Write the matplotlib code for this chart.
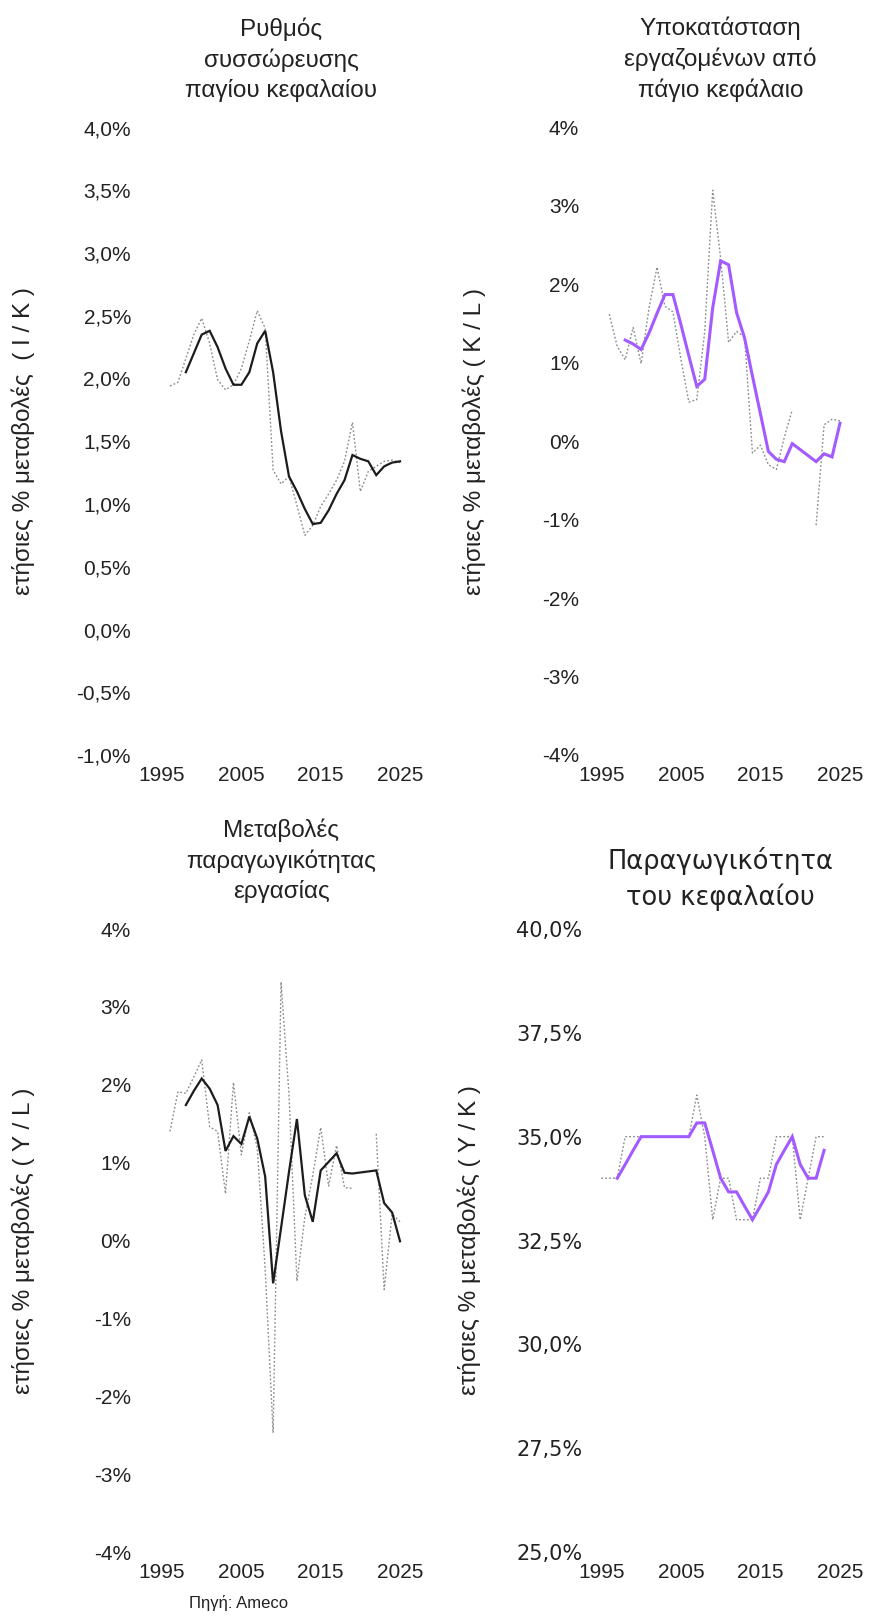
"""
Четыре панели: накопление капитала, замещение труда капиталом,
производительность труда и производительность капитала (данные Ameco).
Пунктир - годовые значения, сплошная линия - сглаженный ряд.
"""

import numpy as np
import matplotlib

matplotlib.use("Agg")
import matplotlib.pyplot as plt
from matplotlib.ticker import FuncFormatter, MultipleLocator

nan = float("nan")

# Данные

years = list(range(1996, 2026))
years_yk = list(range(1995, 2024))
x_ticks = [1995, 2005, 2015, 2025]

# I / K
ik_annual = [1.94, 1.97, 2.16, 2.35, 2.48, 2.28, 1.99, 1.91, 1.95, 2.08,
             2.30, 2.54, 2.40, 1.27, 1.16, 1.22, 0.99, 0.75, 0.83, 0.98,
             1.08, 1.19, 1.34, 1.65, 1.10, 1.26, 1.30, 1.34, 1.35, 1.33]
ik_smooth = [nan, nan, 2.05, 2.20, 2.35, 2.38, 2.25, 2.08, 1.95, 1.95,
             2.05, 2.28, 2.38, 2.05, 1.58, 1.22, 1.10, 0.96, 0.84, 0.85,
             0.95, 1.08, 1.19, 1.39, 1.36, 1.34, 1.23, 1.30, 1.33, 1.34]

# K / L
kl_annual = [1.62, 1.21, 1.04, 1.45, 0.99, 1.70, 2.22, 1.72, 1.65, 1.05,
             0.50, 0.53, 1.40, 3.20, 2.33, 1.26, 1.40, 1.33, -0.15, -0.05,
             -0.30, -0.36, 0.05, 0.40, nan, nan, -1.07, 0.21, 0.28, 0.26]
kl_smooth = [nan, nan, 1.29, 1.24, 1.17, 1.38, 1.63, 1.87, 1.87, 1.49,
             1.09, 0.70, 0.79, 1.70, 2.30, 2.25, 1.64, 1.32, 0.83, 0.35,
             -0.13, -0.23, -0.26, -0.03, nan, nan, -0.26, -0.16, -0.20, 0.23]

# Y / L
yl_annual = [1.40, 1.91, 1.89, 2.10, 2.32, 1.46, 1.40, 0.60, 2.03, 1.10,
             1.64, 1.19, -0.37, -2.47, 3.32, 1.88, -0.52, 0.30, 0.84, 1.45,
             0.70, 1.22, 0.68, 0.67, nan, nan, 1.37, -0.63, 0.34, 0.24]
yl_smooth = [nan, nan, 1.74, 1.92, 2.08, 1.95, 1.74, 1.15, 1.34, 1.24,
             1.59, 1.31, 0.82, -0.55, 0.16, 0.88, 1.56, 0.58, 0.24, 0.90,
             1.01, 1.12, 0.87, 0.86, nan, nan, 0.90, 0.48, 0.36, -0.01]

# Y / K
yk_annual = [34, 34, 34, 35, 35, 35, 35, 35, 35, 35, 35, 35, 36, 35, 33,
             34, 34, 33, 33, 33, 34, 34, 35, 35, 35, 33, 34, 35, 35]
yk_smooth = [nan, nan, 34.0, 34.33, 34.67, 35.0, 35.0, 35.0, 35.0, 35.0,
             35.0, 35.0, 35.33, 35.33, 34.67, 34.0, 33.67, 33.67, 33.33, 33.0,
             33.33, 33.67, 34.33, 34.67, 35.0, 34.33, 34.0, 34.0, 34.67]

# Оформление

BLACK = "#1c1c1c"
PURPLE = "#a35bff"
GREY = "#8c8c8c"
TEXT = "#222222"

TITLE_FONT = ["Liberation Sans Narrow", "Liberation Sans", "DejaVu Sans"]
TICK_FONT = ["Liberation Sans", "DejaVu Sans"]
ROUND_FONT = ["DejaVu Sans"]

W, H = 872, 1619
fig = plt.figure(figsize=(W / 100, H / 100), dpi=100)


def px_axes(left, right, top, bottom):
    # координаты в пикселях -> доли фигуры
    return fig.add_axes([left / W, 1 - bottom / H, (right - left) / W, (bottom - top) / H])


def pct_formatter(decimals):
    def fmt(v, pos):
        return f"{v:.{decimals}f}".replace(".", ",") + "%"
    return FuncFormatter(fmt)


def draw_panel(ax, x, annual, smooth, color, lw, title, ylabel, ylim, ystep,
               decimals, ypad, label_x, title_font=TITLE_FONT, title_size=17.5,
               title_pad=22, ytick_font=TICK_FONT):
    ax.plot(x, annual, color=GREY, lw=1.0, linestyle=(0, (1.3, 1.5)))

    xs = np.array(x, dtype=float)
    ys = np.array(smooth, dtype=float)
    ok = ~np.isnan(ys)
    ax.plot(xs[ok], ys[ok], color=color, lw=lw, solid_joinstyle="miter")

    ax.set_xlim(1993, 2027)
    ax.set_ylim(*ylim)
    ax.set_xticks(x_ticks)
    ax.yaxis.set_major_locator(MultipleLocator(ystep))
    ax.yaxis.set_major_formatter(pct_formatter(decimals))

    for side in ax.spines.values():
        side.set_visible(False)
    ax.tick_params(length=0, labelsize=15, colors=TEXT)
    ax.tick_params(axis="x", pad=8)
    ax.tick_params(axis="y", pad=ypad)
    for lab in ax.get_xticklabels():
        lab.set_fontfamily(TICK_FONT)
    for lab in ax.get_yticklabels():
        lab.set_fontfamily(ytick_font)

    ax.set_title(title, fontsize=title_size, family=title_font, color=TEXT,
                 pad=title_pad, linespacing=1.4)
    ax.set_ylabel(ylabel, fontsize=17.5, family=TITLE_FONT, color=TEXT, va="center")
    ax.yaxis.set_label_coords(label_x, 0.5)


ax1 = px_axes(146.2, 415.9, 127.5, 755)
ax2 = px_axes(585.4, 855.9, 127.5, 755)
ax3 = px_axes(146.2, 415.9, 929, 1552)
ax4 = px_axes(585.4, 855.9, 929, 1552)

draw_panel(ax1, years, ik_annual, ik_smooth, BLACK, 1.6,
           "Ρυθμός\nσυσσώρευσης\nπαγίου κεφαλαίου",
           "ετήσιες % μεταβολές  ( I / K )",
           (-1.0, 4.0), 0.5, 1, 11, -0.457)

draw_panel(ax2, years, kl_annual, kl_smooth, PURPLE, 2.2,
           "Υποκατάσταση\nεργαζομένων από\nπάγιο κεφάλαιο",
           "ετήσιες % μεταβολές ( K / L )",
           (-4, 4), 1, 0, 4.5, -0.41)

draw_panel(ax3, years, yl_annual, yl_smooth, BLACK, 1.6,
           "Μεταβολές\nπαραγωγικότητας\nεργασίας",
           "ετήσιες % μεταβολές ( Y / L )",
           (-4, 4), 1, 0, 11, -0.457)

draw_panel(ax4, years_yk, yk_annual, yk_smooth, PURPLE, 2.2,
           "Παραγωγικότητα\nτου κεφαλαίου",
           "ετήσιες % μεταβολές ( Y / K )",
           (25.0, 40.0), 2.5, 1, 2, -0.43,
           title_font=ROUND_FONT, title_size=18.5, title_pad=17.5,
           ytick_font=ROUND_FONT)

fig.text(239 / W, 1 - 1603 / H, "Πηγή: Ameco", fontsize=12, color=TEXT,
         family=TICK_FONT, ha="center", va="center")

fig.savefig("out.png", dpi=100, facecolor="white")
